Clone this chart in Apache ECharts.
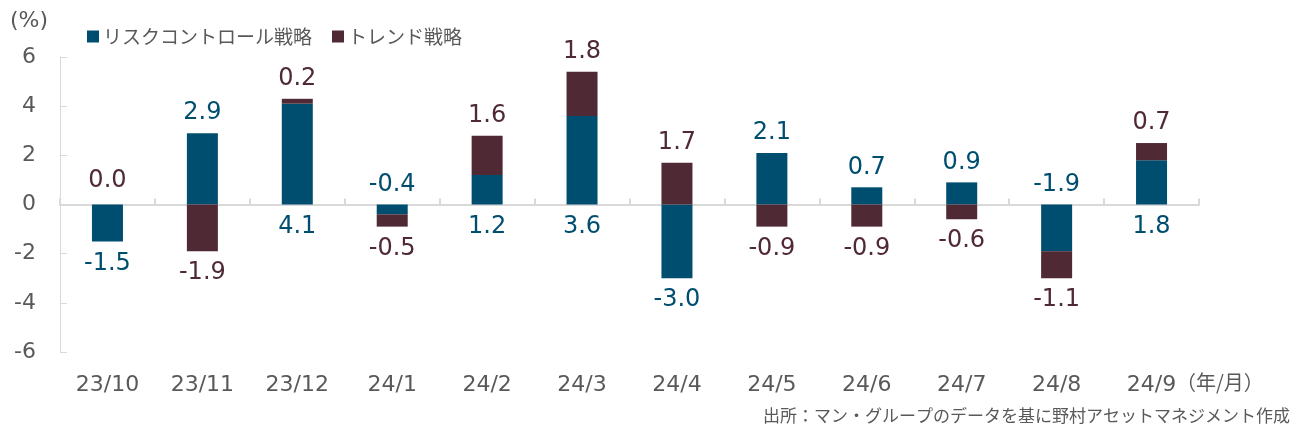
<!DOCTYPE html>
<html>
<head>
<meta charset="utf-8">
<script src="https://cdn.jsdelivr.net/npm/echarts@6/dist/echarts.min.js"></script>
<style>
html, body { margin: 0; padding: 0; background: #fff; }
#chart { width: 1294px; height: 432px; }
</style>
</head>
<body>
<div id="chart"></div>
<script>
// 月次リターン寄与（%）
var months = ['23/10', '23/11', '23/12', '24/1', '24/2', '24/3', '24/4', '24/5', '24/6', '24/7', '24/8', '24/9'];
var riskControl = [-1.5, 2.9, 4.1, -0.4, 1.2, 3.6, -3.0, 2.1, 0.7, 0.9, -1.9, 1.8];
var trend = [0.0, -1.9, 0.2, -0.5, 1.6, 1.8, 1.7, -0.9, -0.9, -0.6, -1.1, 0.7];

var COL_RISK = '#004e6f';
var COL_TREND = '#4f2934';
var TXT = '#595959';
var FONT = '"DejaVu Sans", "Noto Sans CJK JP", sans-serif';
var JP = '"Noto Sans CJK JP", sans-serif';

function lbl(pos) {
  return { position: pos, distance: pos === 'top' ? 8 : 10 };
}

// ラベル位置: 同符号ならリスク側はゼロ線の反対側に出す
var riskData = riskControl.map(function (v, i) {
  var same = (v >= 0) === (trend[i] >= 0) && trend[i] !== 0;
  var pos;
  if (v >= 0) pos = same ? 'bottom' : 'top';
  else pos = same ? 'top' : 'bottom';
  return { value: v, label: lbl(pos) };
});
// 0 のトレンドはスタックの途中に埋もれるので、ラベルは別の散布系列で出す
var trendData = trend.map(function (v) {
  if (v === 0) return { value: v, label: { show: false } };
  return { value: v, label: lbl(v > 0 ? 'top' : 'bottom') };
});
var trendZero = [];
trend.forEach(function (v, i) { if (v === 0) trendZero.push([i, v]); });

var fmt = function (p) {
  var v = Array.isArray(p.value) ? p.value[1] : p.value;
  return v.toFixed(1);
};

var dom = document.getElementById('chart');
var myChart = echarts.init(dom);
var option = {
  animation: false,
  textStyle: { fontFamily: FONT },
  legend: {
    left: 82, top: 22,
    itemWidth: 12, itemHeight: 12, itemGap: 20,
    icon: 'rect',
    textStyle: { color: TXT, fontSize: 19, fontFamily: JP, padding: [0, 0, 0, -1] },
    data: ['リスクコントロール戦略', 'トレンド戦略']
  },
  grid: { left: 60, right: 95, top: 57, bottom: 80 },
  xAxis: [
    {
      type: 'category',
      data: months,
      axisLine: { onZero: true, lineStyle: { color: '#d9d9d9', width: 2 } },
      axisTick: { show: true, inside: true, length: 6, lineStyle: { color: '#d9d9d9', width: 2 } },
      axisLabel: { show: false }
    },
    {
      type: 'category',
      data: months,
      position: 'bottom',
      axisLine: { show: false, onZero: false },
      axisTick: { show: false },
      axisLabel: { color: TXT, fontSize: 22, margin: 22, fontFamily: FONT }
    }
  ],
  yAxis: {
    type: 'value',
    min: -6, max: 6, interval: 2,
    axisLine: { show: true, lineStyle: { color: '#d9d9d9', width: 1 } },
    axisTick: { show: true, inside: true, length: 7, lineStyle: { color: '#d9d9d9' } },
    splitLine: { show: false },
    axisLabel: { color: TXT, fontSize: 22, margin: 24, fontFamily: FONT }
  },
  series: [
    {
      name: 'リスクコントロール戦略',
      type: 'bar',
      stack: 'total',
      barWidth: 31,
      itemStyle: { color: COL_RISK },
      label: { show: true, color: COL_RISK, fontSize: 24, fontFamily: FONT, formatter: fmt },
      data: riskData
    },
    {
      name: 'トレンド戦略',
      type: 'bar',
      stack: 'total',
      barWidth: 31,
      itemStyle: { color: COL_TREND },
      label: { show: true, color: COL_TREND, fontSize: 24, fontFamily: FONT, formatter: fmt },
      data: trendData
    },
    {
      name: 'trendZero',
      type: 'scatter',
      symbolSize: 0,
      silent: true,
      itemStyle: { opacity: 1, color: COL_TREND },
      label: { show: true, position: 'top', distance: 12, color: COL_TREND, fontSize: 24, fontFamily: FONT, formatter: fmt },
      data: trendZero
    }
  ],
  graphic: [
    {
      type: 'text', left: 10, top: 10,
      style: { text: '(%)', fill: TXT, fontSize: 22, fontFamily: FONT }
    },
    {
      type: 'text', left: 1176, top: 372,
      style: { text: '（年/月）', fill: TXT, fontSize: 20, fontFamily: JP }
    },
    {
      type: 'text', right: 4, top: 407,
      style: { text: '出所：マン・グループのデータを基に野村アセットマネジメント作成', fill: TXT, fontSize: 17, fontFamily: JP }
    }
  ]
};
myChart.setOption(option, true);
</script>
</body>
</html>
